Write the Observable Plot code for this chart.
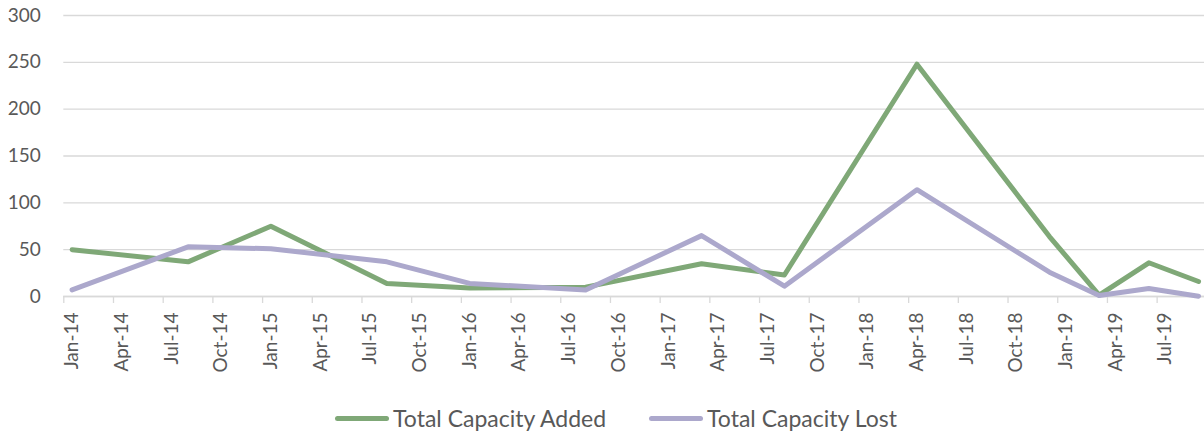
<!DOCTYPE html>
<html><head><meta charset="utf-8">
<script src="https://cdn.jsdelivr.net/npm/d3@7"></script>
<script src="https://cdn.jsdelivr.net/npm/@observablehq/plot@0.6"></script>
<style>
body{margin:0;background:#fff;font-family:Lato,sans-serif;}
#chart{position:relative;width:1204px;height:434px;overflow:hidden;}
#legend{position:absolute;left:0;top:406px;width:1204px;height:24px;display:flex;justify-content:center;align-items:center;padding-left:28px;box-sizing:border-box;font-family:Lato,sans-serif;font-size:23px;color:#595959;}
.item{display:flex;align-items:center;}
.sw{width:54px;height:5px;border-radius:3px;margin-right:4px;}
</style></head><body>
<div id="chart"></div>
<script>
const months = ["Jan-14","Aug-14","Jan-15","Aug-15","Jan-16","Aug-16","Mar-17","Aug-17","Apr-18","Dec-18","Mar-19","Jun-19","Sep-19"];
const capacityAdded = [50,37,75,14,9,10,35,23,248,64,1.5,36,16];
const capacityLost = [7,53,51,37,14,7,65,11,114,26,1,8.5,0.3];
const tickLabels = ["Jan-14","Apr-14","Jul-14","Oct-14","Jan-15","Apr-15","Jul-15","Oct-15","Jan-16","Apr-16","Jul-16","Oct-16","Jan-17","Apr-17","Jul-17","Oct-17","Jan-18","Apr-18","Jul-18","Oct-18","Jan-19","Apr-19","Jul-19"];
const yTicks = [0,50,100,150,200,250,300];
const seriesNames = ["Total Capacity Added","Total Capacity Lost"];
const colors = ["#7fa877","#aca8cc"];

const parse = d3.utcParse("%b-%y");
const start = parse("Jan-14");
const mIdx = s => d3.utcMonth.count(start, parse(s));

const data = [];
seriesNames.forEach((name, si) => {
  const vals = si === 0 ? capacityAdded : capacityLost;
  months.forEach((m, i) => data.push({series: name, x: mIdx(m) + 0.5, y: vals[i]}));
});
const tickPos = tickLabels.map(mIdx);
const labelPos = tickPos.map(p => p + 0.5);
const labelMap = new Map(labelPos.map((p, i) => [p, tickLabels[i]]));

const chart = Plot.plot({
  width: 1204,
  height: 390,
  marginLeft: 63.3,
  marginRight: 0,
  marginTop: 15,
  marginBottom: 94,
  style: {fontFamily: "Lato, sans-serif", color: "#595959", background: "#fff"},
  x: {type: "linear", domain: [0, 68.86], label: null},
  y: {domain: [0, 300], label: null},
  color: {domain: seriesNames, range: colors},
  marks: [
    Plot.gridY(yTicks, {stroke: "#d9d9d9", strokeOpacity: 1, strokeWidth: 1.3}),
    Plot.ruleY([0], {stroke: "#d9d9d9", strokeWidth: 1.3}),
    Plot.axisY(yTicks, {tickSize: 0, tickPadding: 23, fontSize: 19, fill: "#595959", label: null}),
    Plot.axisX(tickPos, {tickSize: 7, stroke: "#d9d9d9", strokeOpacity: 1, strokeWidth: 1.3, tickFormat: () => "", label: null}),
    Plot.axisX(labelPos, {tickSize: 0, tickPadding: 16, tickRotate: -90, fontSize: 19, fill: "#595959", tickFormat: d => labelMap.get(d), label: null}),
    Plot.line(data, {x: "x", y: "y", z: "series", stroke: "series", strokeWidth: 5, strokeLinejoin: "round", strokeLinecap: "round"})
  ]
});
const root = document.getElementById("chart");
root.appendChild(chart);
const legend = document.createElement("div");
legend.id = "legend";
seriesNames.forEach((name, i) => {
  const it = document.createElement("div");
  it.className = "item";
  if (i > 0) it.style.marginLeft = "43px";
  const sw = document.createElement("div");
  sw.className = "sw";
  sw.style.background = colors[i];
  const t = document.createElement("span");
  t.textContent = name;
  it.appendChild(sw); it.appendChild(t);
  legend.appendChild(it);
});
root.appendChild(legend);
</script>
</body></html>
